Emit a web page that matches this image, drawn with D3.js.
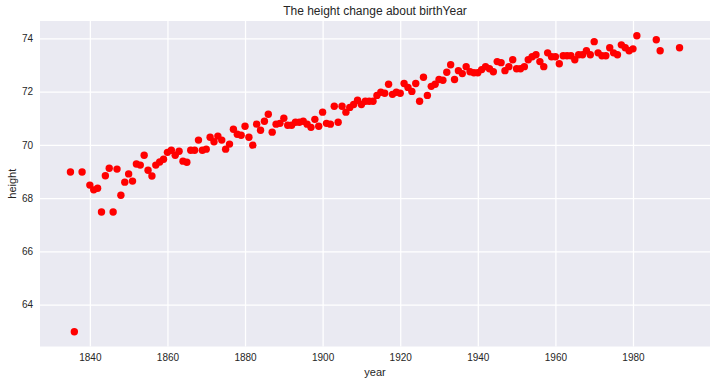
<!DOCTYPE html>
<html>
<head>
<meta charset="utf-8">
<script src="https://cdn.jsdelivr.net/npm/d3@7"></script>
<style>
  html, body { margin: 0; padding: 0; background: #ffffff; }
  svg { display: block; }
  text { font-family: "Liberation Sans", Arial, "DejaVu Sans", sans-serif; fill: #262626; }
</style>
</head>
<body>
<svg id="chart" width="716" height="384"></svg>
<script>
const titleText = "The height change about birthYear";
const xLabel = "year";
const yLabel = "height";

const years = [1835, 1836, 1838, 1840, 1841, 1842, 1843, 1844, 1845, 1846, 1847, 1848, 1849,
  1850, 1851, 1852, 1853, 1854, 1855, 1856, 1857, 1858, 1859,
  1860, 1861, 1862, 1863, 1864, 1865, 1866, 1867, 1868, 1869,
  1870, 1871, 1872, 1873, 1874, 1875, 1876, 1877, 1878, 1879,
  1880, 1881, 1882, 1883, 1884, 1885, 1886, 1887, 1888, 1889,
  1890, 1891, 1892, 1893, 1894, 1895, 1896, 1897, 1898, 1899,
  1900, 1901, 1902, 1903, 1904, 1905, 1906, 1907, 1908, 1909,
  1910, 1911, 1912, 1913, 1914, 1915, 1916, 1917, 1918, 1919,
  1920, 1921, 1922, 1923, 1924, 1925, 1926, 1927, 1928, 1929,
  1930, 1931, 1932, 1933, 1934, 1935, 1936, 1937, 1938, 1939,
  1940, 1941, 1942, 1943, 1944, 1945, 1946, 1947, 1948, 1949,
  1950, 1951, 1952, 1953, 1954, 1955, 1956, 1957, 1958, 1959,
  1960, 1961, 1962, 1963, 1964, 1965, 1966, 1967, 1968, 1969,
  1970, 1971, 1972, 1973, 1974, 1975, 1976, 1977, 1978, 1979,
  1980, 1981, 1986, 1987, 1992];

const heights = [68.98, 62.98, 68.98, 68.49, 68.31, 68.37, 67.48, 68.84, 69.12, 67.48, 69.09, 68.11, 68.60,
  68.91, 68.64, 69.28, 69.24, 69.61, 69.05, 68.83, 69.24, 69.36, 69.46,
  69.72, 69.80, 69.61, 69.76, 69.39, 69.35, 69.80, 69.80, 70.18, 69.80,
  69.84, 70.29, 70.12, 70.33, 70.18, 69.84, 70.03, 70.59, 70.40, 70.36,
  70.70, 70.29, 69.99, 70.78, 70.55, 70.89, 71.15, 70.48, 70.78, 70.81,
  71.00, 70.74, 70.74, 70.85, 70.85, 70.89, 70.78, 70.66, 70.96, 70.70,
  71.23, 70.81, 70.78, 71.45, 70.85, 71.45, 71.23, 71.41, 71.52, 71.68,
  71.52, 71.64, 71.64, 71.64, 71.86, 71.98, 71.94, 72.28, 71.90, 71.98,
  71.94, 72.31, 72.16, 72.01, 72.31, 71.64, 72.54, 71.86, 72.20, 72.28,
  72.46, 72.43, 72.73, 73.01, 72.46, 72.79, 72.68, 72.94, 72.75, 72.71,
  72.71, 72.83, 72.94, 72.86, 72.75, 73.13, 73.09, 72.79, 72.94, 73.20,
  72.86, 72.86, 72.94, 73.20, 73.31, 73.39, 73.13, 72.94, 73.46, 73.31,
  73.31, 73.05, 73.35, 73.35, 73.35, 73.20, 73.39, 73.39, 73.54, 73.39,
  73.88, 73.46, 73.35, 73.35, 73.65, 73.46, 73.39, 73.76, 73.65, 73.54,
  73.61, 74.10, 73.95, 73.54, 73.65];

const xTicks = [1840, 1860, 1880, 1900, 1920, 1940, 1960, 1980];
const yTicks = [64, 66, 68, 70, 72, 74];

const svg = d3.select("#chart");
const W = 716, H = 384;
const margin = { left: 40, right: 6, top: 21, bottom: 37.5 };
const iw = W - margin.left - margin.right;
const ih = H - margin.top - margin.bottom;

// matplotlib-style 5% margins
const xMin = d3.min(years), xMax = d3.max(years);
const yMin = d3.min(heights), yMax = d3.max(heights);
const xPad = (xMax - xMin) * 0.05, yPad = (yMax - yMin) * 0.05;

const x = d3.scaleLinear().domain([xMin - xPad, xMax + xPad]).range([0, iw]);
const y = d3.scaleLinear().domain([yMin - yPad, yMax + yPad]).range([ih, 0]);

const g = svg.append("g").attr("transform", `translate(${margin.left},${margin.top})`);

g.append("rect").attr("width", iw).attr("height", ih).attr("fill", "#EAEAF2");

// grid
const xAxis = d3.axisBottom(x).tickValues(xTicks).tickFormat(d3.format("d")).tickSize(-ih).tickPadding(7);
const yAxis = d3.axisLeft(y).tickValues(yTicks).tickFormat(d3.format("d")).tickSize(-iw).tickPadding(7);

const gx = g.append("g").attr("transform", `translate(0,${ih})`).call(xAxis);
const gy = g.append("g").call(yAxis);
[gx, gy].forEach(a => {
  a.select(".domain").remove();
  a.selectAll(".tick line").attr("stroke", "#ffffff").attr("stroke-width", 1.25);
  a.selectAll(".tick text").attr("font-size", 10).attr("fill", "#262626")
    .attr("font-family", "'Liberation Sans', Arial, sans-serif");
});

// points
g.append("g").selectAll("circle")
  .data(years.map((yr, i) => ({ yr, h: heights[i] })))
  .join("circle")
  .attr("cx", d => x(d.yr))
  .attr("cy", d => y(d.h))
  .attr("r", 3.7)
  .attr("fill", "#ff0000");

// title
svg.append("text").attr("x", margin.left + iw / 2).attr("y", 15)
  .attr("text-anchor", "middle").attr("font-size", 12).text(titleText);

// axis labels
svg.append("text").attr("x", margin.left + iw / 2).attr("y", 376)
  .attr("text-anchor", "middle").attr("font-size", 11).text(xLabel);
svg.append("text").attr("transform", `translate(16,${margin.top + ih / 2}) rotate(-90)`)
  .attr("text-anchor", "middle").attr("font-size", 11).text(yLabel);
</script>
</body>
</html>
